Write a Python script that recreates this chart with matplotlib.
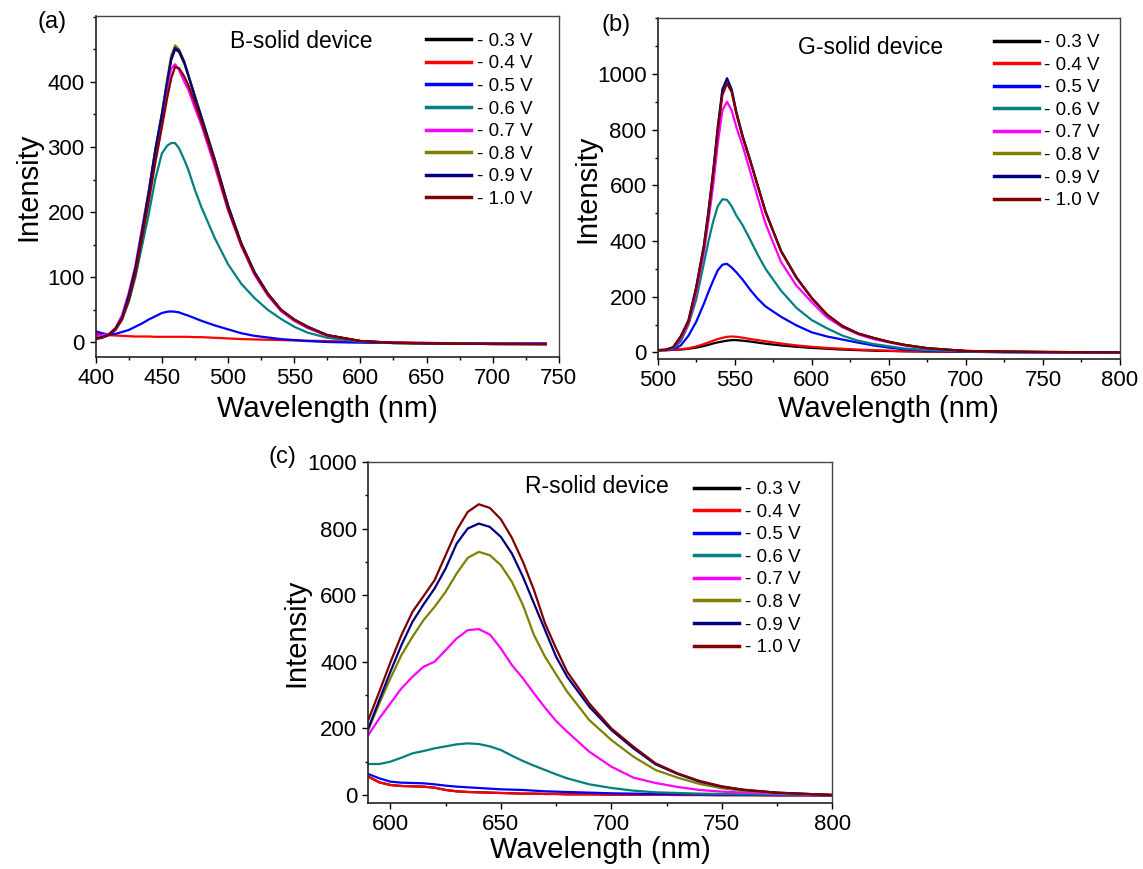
import matplotlib
matplotlib.use("Agg")
import matplotlib.pyplot as plt
from matplotlib.ticker import MultipleLocator

plt.rcParams['font.family'] = ['Liberation Sans', 'DejaVu Sans']

# legend labels and Origin-style colours
labels = ['- 0.3 V', '- 0.4 V', '- 0.5 V', '- 0.6 V', '- 0.7 V', '- 0.8 V', '- 0.9 V', '- 1.0 V']
colors = ['#000000', '#ff0000', '#0000ff', '#008080', '#ff00ff', '#808000', '#000080', '#800000']

# (a) B-solid device
a_wl = [400, 405, 410, 415, 420, 425, 430, 435, 440, 445, 450, 454, 457, 460, 463, 467, 470, 475,
        480, 490, 500, 510, 520, 530, 540, 550, 560, 575, 600, 625, 650, 700, 740]
a_03 = [6, 8, 12, 21, 38, 71, 112, 168, 228, 293, 348, 398, 433, 450, 446, 428, 410, 377,
        345, 280, 209, 152, 107, 75, 50, 35, 24, 11, 2, -1, -1.5, -2.5, -2.6]
a_04 = [13, 12, 11, 10.5, 10, 9.5, 9, 9, 9, 8.5, 8.5, 8.5, 8.5, 8.5, 8.5, 8.5, 8.5, 8,
        8, 7, 6, 5, 4.5, 4, 3.5, 3, 2.5, 2, 1, 0, -1, -2, -2.6]
a_05 = [17, 14, 12, 13, 16, 19, 24, 29, 35, 40, 45, 47, 47.5, 47, 46, 43, 41, 37,
        33, 26, 20, 14, 10, 7.5, 5, 3.5, 2, 0.5, -0.5, -1, -1, -1.5, -1.5]
a_06 = [6, 8, 12, 21, 36, 62, 100, 148, 196, 250, 290, 302, 306, 306, 298, 280, 265, 234,
        207, 160, 120, 90, 68, 50, 36, 24, 15, 7, 1, -0.5, -1.5, -2.5, -2.6]
a_07 = [10, 11, 13, 22, 42, 76, 118, 175, 232, 292, 345, 390, 420, 427, 418, 400, 388, 360,
        333, 270, 203, 148, 104, 72, 48, 33, 22, 10, 2, -0.5, -1, -2, -2]
a_08 = [6, 8, 12, 21, 38, 71, 113, 170, 230, 296, 352, 403, 440, 456, 450, 431, 411, 378,
        346, 281, 210, 152, 107, 75, 50, 35, 24, 11, 2, -1, -1.5, -2.5, -2.6]
a_09 = [6, 8, 12, 21, 38, 72, 113, 170, 229, 295, 350, 400, 435, 452, 448, 430, 410, 377,
        345, 280, 210, 152, 108, 75, 50, 35, 24, 11, 2, -1, -1.5, -2.5, -2.6]
a_10 = [5, 7, 11, 19, 35, 65, 105, 160, 215, 275, 330, 375, 405, 423, 421, 408, 395, 368,
        338, 276, 205, 150, 106, 74, 50, 35, 24, 11, 2, -0.5, -1.5, -2.5, -2.8]

# (b) G-solid device
b_wl = [500, 505, 510, 515, 520, 525, 530, 533, 536, 539, 542, 545, 548, 551, 555, 560, 565, 570,
        580, 590, 600, 610, 620, 630, 640, 650, 660, 675, 700, 725, 750, 800]
b_03 = [8, 8, 9, 10, 13, 17, 23, 27, 32, 36, 39, 42, 44, 44, 42, 39, 35, 31,
        25, 20, 16, 13, 10, 8, 6, 5, 4, 3, 2, 1, 1, 0]
b_04 = [8, 8, 9, 11, 15, 21, 30, 36, 42, 48, 52, 56, 57, 56, 53, 48, 44, 40,
        32, 25, 20, 16, 13, 10, 8, 6, 4, 3, 2, 1.5, 1, 0]
b_05 = [8, 8, 10, 25, 60, 110, 175, 218, 258, 295, 315, 318, 305, 288, 262, 225, 192, 165,
        128, 97, 72, 57, 46, 35, 25, 17, 11, 6, 2, 1, 0, 0]
b_06 = [8, 9, 12, 40, 100, 190, 320, 400, 470, 525, 550, 548, 525, 492, 458, 405, 350, 300,
        222, 160, 116, 86, 60, 42, 30, 22, 14, 8, 3, 1, 0.5, 0]
b_07 = [8, 9, 15, 50, 105, 215, 360, 475, 600, 750, 870, 900, 870, 810, 745, 650, 555, 462,
        325, 240, 180, 125, 90, 65, 48, 36, 25, 13, 5, 2, 1, 0]
b_08 = [8, 9, 18, 57, 114, 233, 383, 508, 648, 806, 940, 977, 940, 862, 778, 689, 596, 504,
        364, 268, 195, 135, 94, 68, 52, 38, 27, 15, 5, 3, 1.5, 0]
b_09 = [8, 9, 18, 58, 115, 235, 385, 510, 650, 810, 945, 985, 945, 865, 780, 691, 598, 506,
        365, 270, 195, 135, 94, 68, 52, 38, 27, 15, 5, 3, 1.5, 0]
b_10 = [8, 9, 18, 56, 112, 230, 378, 500, 640, 795, 925, 966, 935, 858, 776, 688, 596, 504,
        364, 268, 195, 135, 94, 68, 52, 38, 27, 15, 5, 3, 1.5, 0]

# (c) R-solid device
c_wl = [590, 595, 600, 605, 610, 615, 620, 625, 630, 635, 640, 645, 650, 655, 660,
        665, 670, 675, 680, 690, 700, 710, 720, 730, 740, 750, 760, 775, 800]
c_03 = [55, 38, 30, 27, 26, 25, 22, 15, 11, 9, 8, 7, 6, 5, 4,
        4, 3, 3, 2, 2, 1, 1, 0.5, 0, 0, -0.5, -0.5, -1, -1]
c_04 = [55, 38, 30, 27, 26, 25, 22, 15, 11, 9, 8, 7, 6, 5, 4,
        4, 3, 3, 2, 2, 1, 1, 0.5, 0, 0, -0.5, -0.5, -1, -1]
c_05 = [63, 50, 40, 37, 36, 35, 32, 28, 25, 23, 21, 19, 17, 16, 15,
        13, 11, 10, 9, 7, 5, 4, 3, 2, 1.5, 1, 0.5, 0, -1]
c_06 = [93, 93, 100, 112, 125, 132, 140, 146, 152, 155, 153, 146, 135, 118, 102,
        88, 75, 62, 50, 32, 21, 13, 8, 6, 4, 3, 2, 1, 0]
c_07 = [180, 230, 275, 320, 355, 385, 400, 435, 470, 495, 498, 482, 440, 390, 350,
        305, 262, 222, 190, 130, 85, 52, 36, 24, 15, 10, 7, 4, 0]
c_08 = [195, 275, 350, 420, 475, 525, 565, 610, 665, 712, 730, 720, 690, 640, 570,
        480, 415, 362, 310, 225, 165, 115, 75, 52, 33, 20, 12, 6, 0]
c_09 = [200, 285, 370, 450, 520, 572, 620, 680, 755, 800, 815, 805, 775, 725, 655,
        575, 495, 415, 355, 265, 195, 140, 92, 63, 40, 25, 15, 7, 0]
c_10 = [225, 310, 398, 480, 550, 597, 645, 720, 795, 850, 873, 862, 828, 772, 700,
        615, 515, 440, 370, 275, 200, 145, 95, 65, 42, 26, 16, 7, 0]

panels = [
    dict(pos=[0.0837, 0.5888, 0.4053, 0.3927], wl=a_wl,
         ys=[a_03, a_04, a_05, a_06, a_07, a_08, a_09, a_10],
         xlim=(400, 750), xticks=range(400, 751, 50), ylim=(-23, 501),
         yticks=range(0, 401, 100), yminor=50,
         name='B-solid device', tag='(a)', text_xy=(0.290, 0.925),
         leg_xy=(0.713, 0.951), tag_xy=(52, 22), ylab_x=-0.146, xlab_y=-0.110),
    dict(pos=[0.5754, 0.5865, 0.4045, 0.3924], wl=b_wl,
         ys=[b_03, b_04, b_05, b_06, b_07, b_08, b_09, b_10],
         xlim=(500, 800), xticks=range(500, 801, 50), ylim=(-25, 1200),
         yticks=range(0, 1001, 200), yminor=100,
         name='G-solid device', tag='(b)', text_xy=(0.303, 0.914),
         leg_xy=(0.727, 0.954), tag_xy=(616, 25), ylab_x=-0.151, xlab_y=-0.105),
    dict(pos=[0.3222, 0.0756, 0.4060, 0.3928], wl=c_wl,
         ys=[c_03, c_04, c_05, c_06, c_07, c_08, c_09, c_10],
         xlim=(590, 800), xticks=range(600, 801, 50), ylim=(-25, 1000),
         yticks=range(0, 1001, 200), yminor=100,
         name='R-solid device', tag='(c)', text_xy=(0.338, 0.927),
         leg_xy=(0.702, 0.944), tag_xy=(282, 457), ylab_x=-0.154, xlab_y=-0.096),
]

W, H = 1143, 869
fig = plt.figure(figsize=(W / 100, H / 100), dpi=100)

for p in panels:
    ax = fig.add_axes(p['pos'])
    for y, c, lab in zip(p['ys'], colors, labels):
        ax.plot(p['wl'], y, color=c, lw=1.6, label=lab)

    ax.set_xlim(*p['xlim'])
    ax.set_ylim(*p['ylim'])
    ax.set_xticks(list(p['xticks']))
    ax.xaxis.set_minor_locator(MultipleLocator(25))
    ax.set_yticks(list(p['yticks']))
    ax.yaxis.set_minor_locator(MultipleLocator(p['yminor']))

    for s in ['top', 'right']:
        ax.spines[s].set_color('#444444')
        ax.spines[s].set_linewidth(1.0)
    for s in ['left', 'bottom']:
        ax.spines[s].set_color('#222222')
        ax.spines[s].set_linewidth(1.2)
    ax.tick_params(which='major', direction='out', length=4, width=1, labelsize=16,
                   pad=4, top=False, right=False)
    ax.tick_params(which='minor', direction='out', length=2.5, width=1, top=False, right=False)

    ax.set_xlabel('Wavelength (nm)', fontsize=21, va='top')
    ax.xaxis.set_label_coords(0.5, p['xlab_y'])
    ax.set_ylabel('Intensity', fontsize=21, va='center')
    ax.yaxis.set_label_coords(p['ylab_x'], 0.5)

    ax.text(p['text_xy'][0], p['text_xy'][1], p['name'], transform=ax.transAxes,
            fontsize=16.5, va='center', ha='left')
    leg = ax.legend(loc='upper left', bbox_to_anchor=p['leg_xy'], frameon=False, fontsize=13.5,
                    handlelength=2.4, handletextpad=0.3, labelspacing=0.29, borderpad=0,
                    borderaxespad=0)
    for h in leg.get_lines():
        h.set_linewidth(2.5)

    fig.text(p['tag_xy'][0] / W, 1 - p['tag_xy'][1] / H, p['tag'], fontsize=17,
             ha='center', va='center')

fig.savefig('out.png', dpi=100)
